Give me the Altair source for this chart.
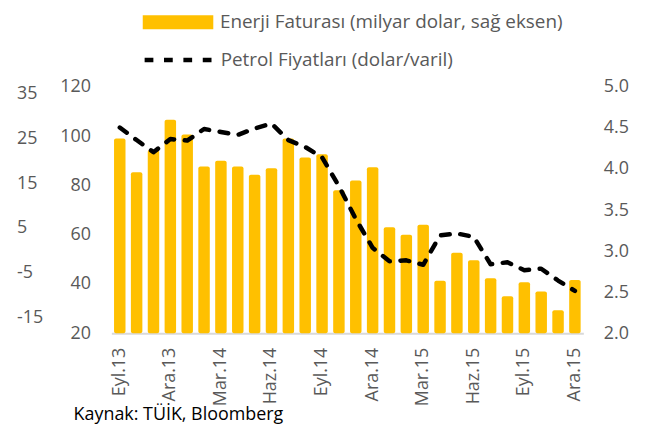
import altair as alt
import pandas as pd

months = ["Eyl.13", "Eki.13", "Kas.13", "Ara.13", "Oca.14", "Şub.14", "Mar.14",
          "Nis.14", "May.14", "Haz.14", "Tem.14", "Ağu.14", "Eyl.14", "Eki.14",
          "Kas.14", "Ara.14", "Oca.15", "Şub.15", "Mar.15", "Nis.15", "May.15",
          "Haz.15", "Tem.15", "Ağu.15", "Eyl.15", "Eki.15", "Kas.15", "Ara.15"]
energy = [4.37, 3.96, 4.23, 4.60, 4.42, 4.03, 4.10, 4.03, 3.93, 4.01, 4.37, 4.14,
          4.18, 3.74, 3.86, 4.02, 3.29, 3.20, 3.32, 2.64, 2.98, 2.89, 2.67, 2.45,
          2.62, 2.51, 2.28, 2.65]
oil = [103.5, 98.4, 93.5, 98.8, 98.2, 102.9, 101.7, 100.5, 103.1, 105.1, 98.4, 95.6,
       91.4, 79.7, 66.4, 54.7, 49.2, 49.6, 47.8, 59.7, 60.5, 59.1, 48.0, 48.8,
       45.6, 46.2, 41.4, 37.2]
tick_months = months[::3]
left_ticks = [20, 40, 60, 80, 100, 120]
right_ticks = [2.0, 2.5, 3.0, 3.5, 4.0, 4.5, 5.0]
far_left_ticks = [-15, -5, 5, 15, 25, 35]

LEG_BAR = "Enerji Faturası (milyar dolar, sağ eksen)"
LEG_LINE = "Petrol Fiyatları (dolar/varil)"
SOURCE = "Kaynak: TÜİK, Bloomberg"

FONT = "Open Sans"
GRAY = "#595959"
GOLD = "#FFC000"

df = pd.DataFrame({"month": months, "energy": energy, "oil": oil,
                   "s1": [LEG_BAR] * len(months), "s2": [LEG_LINE] * len(months)})
far_df = pd.DataFrame({"v": far_left_ticks})

x_enc = alt.X("month:N", sort=months,
              scale=alt.Scale(paddingInner=0.32, paddingOuter=0.16),
              axis=alt.Axis(values=tick_months, labelAngle=270, title=None,
                            ticks=False, labelPadding=14, domainColor="#D9D9D9",
                            domainWidth=2, labelFont=FONT, labelFontSize=18,
                            labelColor=GRAY))

bars = alt.Chart(df).mark_bar(cornerRadius=2).encode(
    x=x_enc,
    y=alt.Y("energy:Q", scale=alt.Scale(domain=[2, 5], nice=False, zero=False),
            axis=alt.Axis(orient="right", values=right_ticks, format=".1f", title=None,
                          ticks=False, domain=False, grid=False, labelPadding=20,
                          labelFont=FONT, labelFontSize=18, labelColor=GRAY)),
    y2=alt.datum(2),
    color=alt.Color("s1:N", scale=alt.Scale(range=[GOLD]),
                    legend=alt.Legend(orient="none", legendX=57.6, legendY=-74.5,
                                      title=None,
                                      symbolType="M-4,-0.8L4,-0.8L4,0.8L-4,0.8Z",
                                      symbolSize=315, symbolStrokeWidth=0,
                                      labelFont=FONT, labelFontSize=19, labelColor=GRAY,
                                      labelOffset=32.7, labelLimit=0, padding=0)),
)

line = alt.Chart(df).mark_line(color="black", strokeWidth=4.5, strokeCap="round",
                               strokeJoin="round").encode(
    x=alt.X("month:N", sort=months, bandPosition=0.5),
    y=alt.Y("oil:Q", scale=alt.Scale(domain=[20, 120], nice=False, zero=False),
            axis=alt.Axis(orient="left", values=left_ticks, title=None, ticks=False,
                          domain=False, grid=False, labelPadding=21,
                          labelFont=FONT, labelFontSize=18, labelColor=GRAY)),
    strokeDash=alt.StrokeDash("s2:N", scale=alt.Scale(range=[[8.8, 10.7]]),
                              legend=alt.Legend(orient="none", legendX=31, legendY=-65,
                                                title=None, symbolType="stroke",
                                                symbolSize=5041, symbolStrokeColor="black",
                                                symbolStrokeWidth=4.5,
                                                labelFont=FONT, labelFontSize=19,
                                                labelColor=GRAY, labelOffset=3,
                                                labelLimit=0, padding=0)),
)

far = alt.Chart(far_df).mark_point(opacity=0).encode(
    y=alt.Y("v:Q", scale=alt.Scale(domain=[-18.55, 36.49], nice=False, zero=False),
            axis=alt.Axis(orient="left", values=far_left_ticks, title=None, ticks=False,
                          domain=False, grid=False, offset=95.5, labelPadding=0,
                          labelAlign="left", labelExpr="'' + datum.value",
                          labelFont=FONT, labelFontSize=18, labelColor=GRAY)),
)

chart = alt.layer(bars, line, far).resolve_scale(
    y="independent", color="independent", strokeDash="independent"
).properties(
    width=475, height=248,
    autosize=alt.AutoSizeParams(type="none"),
    padding={"left": 104, "top": 78, "right": 54, "bottom": 98},
    title=alt.TitleParams(SOURCE, orient="bottom", anchor="start", frame="group",
                          font=FONT, fontSize=18, fontWeight="normal", color="black",
                          dx=-38, offset=0),
).configure_view(stroke=None).configure_axis(grid=False)

chart.save("out.html", embed_options={"renderer": "svg", "actions": False})
